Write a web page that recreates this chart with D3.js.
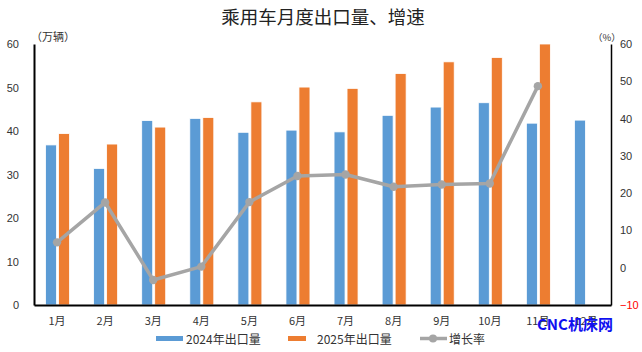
<!DOCTYPE html>
<html><head><meta charset="utf-8">
<script src="https://cdn.jsdelivr.net/npm/d3@7"></script>
<style>
body{margin:0;background:#fff;}
svg{display:block;}
</style></head>
<body><svg id="c" width="642" height="352"></svg>
<script>
const months = ["1月","2月","3月","4月","5月","6月","7月","8月","9月","10月","11月","12月"];
const exports2024 = [36.8,31.4,42.4,42.9,39.7,40.2,39.8,43.6,45.5,46.5,41.8,42.5];
const exports2025 = [39.4,37.0,40.9,43.1,46.7,50.1,49.8,53.2,55.9,56.9,60.0,null];
const growthRate = [6.8,17.5,-3.3,0.3,17.6,24.6,25.0,21.7,22.3,22.6,48.7,null];
const leftTicks = [0,10,20,30,40,50,60];
const rightTicks = [-10,0,10,20,30,40,50,60];
const seriesNames = ["2024年出口量","2025年出口量","增长率"];
const colors = ["#5B9BD5","#ED7D31","#A5A5A5"];

const svg = d3.select("#c");
const L = 34, R = 611, T = 44, B = 305;
const x = d3.scaleBand().domain(months).range([L, R]).paddingInner(0).paddingOuter(0);
const yL = d3.scaleLinear().domain([0,60]).range([B,T]);
const yR = d3.scaleLinear().domain([-10,60]).range([B,T]);
const font = "'Liberation Sans', Arial, sans-serif";
const cjk = "'Noto Sans CJK SC', sans-serif";

// title
svg.append("text").attr("x",323).attr("y",24).attr("text-anchor","middle")
  .attr("font-family",cjk).attr("font-size",18.5).attr("fill","#222")
  .text("乘用车月度出口量、增速");

// bars
const bw = 11;
svg.append("g").selectAll("rect").data(months.map((m,i)=>({m,v:exports2024[i]})))
  .join("rect")
  .attr("x",d=>x(d.m)+x.bandwidth()/2-12.5).attr("width",bw)
  .attr("y",d=>yL(d.v)).attr("height",d=>B-yL(d.v))
  .attr("fill",colors[0]).attr("stroke","#fff").attr("stroke-width",0.8);
svg.append("g").selectAll("rect").data(months.map((m,i)=>({m,v:exports2025[i]})).filter(d=>d.v!=null))
  .join("rect")
  .attr("x",d=>x(d.m)+x.bandwidth()/2+0.5).attr("width",bw)
  .attr("y",d=>yL(d.v)).attr("height",d=>B-yL(d.v))
  .attr("fill",colors[1]).attr("stroke","#fff").attr("stroke-width",0.8);

// axes
const axL = svg.append("g").attr("transform",`translate(${L},0)`)
  .call(d3.axisLeft(yL).tickValues(leftTicks).tickSize(0).tickPadding(15));
axL.select(".domain").attr("stroke","#000").attr("stroke-width",2);
axL.selectAll("text").attr("font-family",font).attr("font-size",11).attr("fill","#333");

const axR = svg.append("g").attr("transform",`translate(${R},0)`)
  .call(d3.axisRight(yR).tickValues(rightTicks).tickSize(0).tickPadding(9));
axR.select(".domain").attr("stroke","#000").attr("stroke-width",1.5);
axR.selectAll("text").attr("font-family",font).attr("font-size",11)
  .attr("fill",d=>d<0?"#FF0000":"#333").text(d=>d<0?"−10".replace("10",Math.abs(d)):d);

const axB = svg.append("g").attr("transform",`translate(0,${B})`)
  .call(d3.axisBottom(x).tickSize(0).tickPadding(12));
axB.select(".domain").attr("stroke","#000").attr("stroke-width",2);
axB.selectAll("text").attr("font-family",cjk).attr("font-size",11).attr("fill","#333")
  .attr("dx",-1);

// unit labels
svg.append("text").attr("x",31).attr("y",41).attr("font-family",cjk).attr("font-size",11).attr("fill","#333").text("（万辆）");
svg.append("text").attr("x",593).attr("y",41).attr("font-family",cjk).attr("font-size",9.5).attr("fill","#333").text("（%）");

// growth line
const pts = months.map((m,i)=>({m,v:growthRate[i]})).filter(d=>d.v!=null);
const cx = d=>x(d.m)+x.bandwidth()/2-1;
svg.append("path").datum(pts)
  .attr("d",d3.line().x(cx).y(d=>yR(d.v)))
  .attr("fill","none").attr("stroke",colors[2]).attr("stroke-width",3.5).attr("stroke-linejoin","round");
svg.append("g").selectAll("circle").data(pts).join("circle")
  .attr("cx",cx).attr("cy",d=>yR(d.v)).attr("r",4.2).attr("fill",colors[2]);

// legend
const lg = svg.append("g").attr("font-family",cjk).attr("font-size",12).attr("fill","#333");
lg.append("rect").attr("x",156).attr("y",336).attr("width",27).attr("height",5).attr("fill",colors[0]);
lg.append("text").attr("x",186).attr("y",343.5).text(seriesNames[0]);
lg.append("rect").attr("x",288).attr("y",336).attr("width",18).attr("height",5).attr("fill",colors[1]);
lg.append("text").attr("x",317).attr("y",343.5).text(seriesNames[1]);
lg.append("line").attr("x1",420).attr("x2",447).attr("y1",338.5).attr("y2",338.5).attr("stroke",colors[2]).attr("stroke-width",3.5);
lg.append("circle").attr("cx",433).attr("cy",338.5).attr("r",4).attr("fill",colors[2]);
lg.append("text").attr("x",449).attr("y",343.5).text(seriesNames[2]);

// watermark
svg.append("text").attr("x",537).attr("y",330).attr("font-family",cjk).attr("font-weight","bold")
  .attr("font-size",15).attr("fill","#1010F0").text("CNC机床网");
</script></body></html>
